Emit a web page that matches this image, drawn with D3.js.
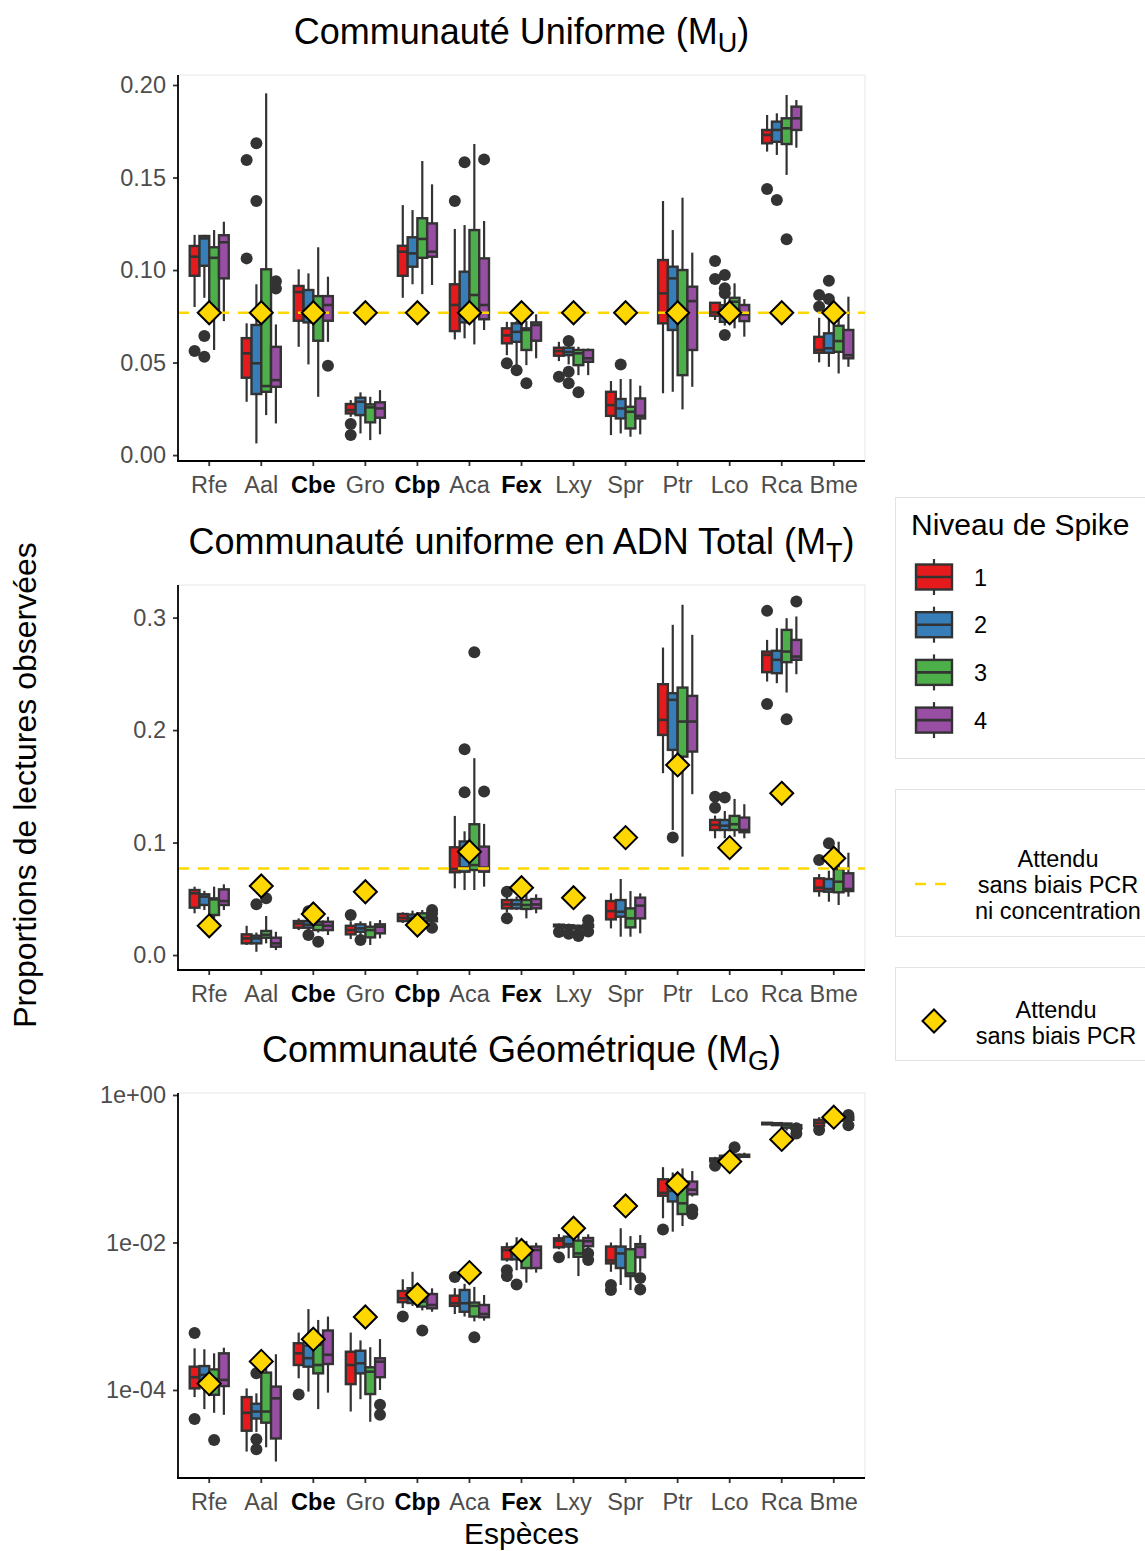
<!DOCTYPE html>
<html>
<head>
<meta charset="utf-8">
<script src="https://cdn.jsdelivr.net/npm/d3@7"></script>
<style>
  body { margin: 0; background: #fff; }
  svg { display: block; font-family: "Liberation Sans", Arial, Helvetica, sans-serif; }
</style>
</head>
<body>
<div id="chart"></div>
<script>
// species on the x axis, bold ones are highlighted in the figure
const species = ["Rfe", "Aal", "Cbe", "Gro", "Cbp", "Aca", "Fex", "Lxy", "Spr", "Ptr", "Lco", "Rca", "Bme"];
const boldSpecies = ["Cbe", "Cbp", "Fex"];
const levels = ["1", "2", "3", "4"];
const levelColors = ["#E41A1C", "#377EB8", "#4DAF4A", "#984EA3"];

// box stats per species: one [min, Q1, median, Q3, max] per spike level
const statsU = [
  [[0.080, 0.0969, 0.1072, 0.113, 0.119], [0.085, 0.1023, 0.1171, 0.1184, 0.119], [0.0568, 0.0784, 0.1066, 0.1123, 0.1216], [0.0724, 0.0955, 0.115, 0.1188, 0.1261]],
  [[0.0288, 0.0418, 0.055, 0.0632, 0.0712], [0.0063, 0.033, 0.0496, 0.0703, 0.0923], [0.0216, 0.0342, 0.0373, 0.1004, 0.1955], [0.0171, 0.0369, 0.0405, 0.0585, 0.0706]],
  [[0.0585, 0.0726, 0.0881, 0.0914, 0.1004], [0.049, 0.0717, 0.0751, 0.0892, 0.0982], [0.0315, 0.0618, 0.0771, 0.0859, 0.1123], [0.0612, 0.0726, 0.0811, 0.0859, 0.0964]],
  [[0.0207, 0.0225, 0.0243, 0.0276, 0.0297], [0.0117, 0.0216, 0.0288, 0.031, 0.0339], [0.0081, 0.0177, 0.0258, 0.0274, 0.0315], [0.0112, 0.0202, 0.0252, 0.0285, 0.0351]],
  [[0.085, 0.0969, 0.1099, 0.1131, 0.1351], [0.0923, 0.1018, 0.109, 0.1177, 0.1324], [0.087, 0.1066, 0.1168, 0.128, 0.1589], [0.0919, 0.1072, 0.1099, 0.1252, 0.1463]],
  [[0.0625, 0.067, 0.0811, 0.0923, 0.1222], [0.0631, 0.0717, 0.077, 0.0991, 0.1243], [0.0598, 0.0784, 0.0865, 0.1216, 0.1681], [0.0676, 0.0734, 0.0811, 0.1063, 0.1265]],
  [[0.054, 0.0604, 0.0647, 0.0685, 0.072], [0.0486, 0.0612, 0.0666, 0.0712, 0.0724], [0.0486, 0.0568, 0.0676, 0.0685, 0.0724], [0.0523, 0.0618, 0.0703, 0.0717, 0.0761]],
  [[0.0508, 0.0537, 0.0562, 0.058, 0.0612], [0.049, 0.054, 0.0557, 0.058, 0.0595], [0.0432, 0.0486, 0.055, 0.0568, 0.0585], [0.0432, 0.0504, 0.0523, 0.0568, 0.0576]],
  [[0.0108, 0.0212, 0.027, 0.0342, 0.04], [0.0117, 0.0198, 0.0252, 0.0303, 0.0411], [0.0099, 0.0144, 0.0234, 0.0261, 0.0411], [0.0112, 0.0198, 0.0212, 0.0306, 0.0375]],
  [[0.0334, 0.0712, 0.0874, 0.1054, 0.1373], [0.0342, 0.0676, 0.0955, 0.1018, 0.1216], [0.0247, 0.0432, 0.0775, 0.1, 0.1391], [0.0369, 0.0568, 0.0832, 0.091, 0.1094]],
  [[0.073, 0.0753, 0.0771, 0.0823, 0.0823], [0.07, 0.072, 0.0775, 0.081, 0.085], [0.0685, 0.0766, 0.0829, 0.085, 0.0928], [0.064, 0.0724, 0.076, 0.0811, 0.0843]],
  [[0.164, 0.1685, 0.173, 0.1757, 0.1838], [0.1622, 0.1693, 0.1757, 0.1802, 0.1847], [0.1514, 0.1681, 0.1766, 0.182, 0.1946], [0.1661, 0.1757, 0.182, 0.1883, 0.1919]],
  [[0.0501, 0.0553, 0.0568, 0.0639, 0.0742], [0.0477, 0.0553, 0.0577, 0.0658, 0.075], [0.0441, 0.0558, 0.0616, 0.0699, 0.0775], [0.0477, 0.0523, 0.054, 0.0676, 0.0856]]
];
const outliersU = [
  [[0.0562], [0.0643, 0.0531], [], []],
  [[0.1595, 0.1063], [0.1685, 0.1373], [], [0.094, 0.090]],
  [[], [], [], [0.0483]],
  [[0.0168, 0.0108], [], [], []],
  [[], [], [], []],
  [[0.1373], [0.1582], [], [0.1598]],
  [[0.0496], [0.0459], [0.0388], []],
  [[0.0423], [0.0616, 0.045, 0.0388], [0.0339], []],
  [[], [0.049], [], []],
  [[], [], [], []],
  [[0.1049, 0.0951], [0.0973, 0.0901, 0.0874, 0.0649], [], []],
  [[0.1438], [0.1378], [0.1166], []],
  [[0.0865, 0.0802], [0.0942, 0.0843], [], []]
];
const expectedU = [0.0769, 0.0769, 0.0769, 0.0769, 0.0769, 0.0769, 0.0769, 0.0769, 0.0769, 0.0769, 0.0769, 0.0769, 0.0769];

const statsT = [
  [[0.0371, 0.0421, 0.0549, 0.0578, 0.0608], [0.04, 0.0445, 0.0519, 0.054, 0.0571], [0.0326, 0.0356, 0.0495, 0.0504, 0.0608], [0.04, 0.0445, 0.048, 0.0584, 0.0629]],
  [[0.0089, 0.0104, 0.0148, 0.0184, 0.026], [0.0029, 0.0104, 0.0148, 0.0172, 0.02], [0.0104, 0.0154, 0.018, 0.0214, 0.0347], [0.0044, 0.0074, 0.0104, 0.0154, 0.0207]],
  [[0.0222, 0.0243, 0.028, 0.0302, 0.0326], [0.022, 0.0243, 0.027, 0.0302, 0.034], [0.02, 0.0222, 0.027, 0.0296, 0.033], [0.0178, 0.0222, 0.026, 0.0296, 0.034]],
  [[0.0142, 0.0184, 0.0222, 0.026, 0.03], [0.016, 0.0207, 0.0237, 0.0273, 0.03], [0.0089, 0.0157, 0.0222, 0.0252, 0.03], [0.0148, 0.0193, 0.0252, 0.0273, 0.0311]],
  [[0.0285, 0.0302, 0.033, 0.0365, 0.038], [0.027, 0.031, 0.033, 0.036, 0.0395], [0.026, 0.0296, 0.033, 0.0371, 0.04], [0.0285, 0.03, 0.0315, 0.033, 0.0335]],
  [[0.0593, 0.0736, 0.0765, 0.0958, 0.1237], [0.0578, 0.0741, 0.078, 0.101, 0.11], [0.0578, 0.0756, 0.08, 0.1163, 0.175], [0.0608, 0.0741, 0.0777, 0.0964, 0.1166]],
  [[0.038, 0.0415, 0.045, 0.0489, 0.052], [0.04, 0.0415, 0.045, 0.0489, 0.052], [0.0326, 0.041, 0.0445, 0.0489, 0.0534], [0.0371, 0.0415, 0.045, 0.0498, 0.054]],
  [[0.0245, 0.0255, 0.026, 0.027, 0.028], [0.023, 0.024, 0.025, 0.0265, 0.028], [0.022, 0.0235, 0.0245, 0.026, 0.027], [0.0235, 0.025, 0.026, 0.027, 0.0285]],
  [[0.0237, 0.0317, 0.0391, 0.048, 0.0549], [0.0163, 0.0341, 0.0385, 0.0489, 0.0676], [0.0163, 0.0246, 0.0326, 0.0415, 0.0569], [0.0193, 0.0326, 0.0439, 0.051, 0.0549]],
  [[0.1617, 0.1957, 0.2091, 0.2408, 0.2734], [0.1112, 0.1824, 0.2269, 0.2328, 0.2936], [0.0875, 0.1764, 0.2076, 0.2378, 0.3114], [0.143, 0.1809, 0.2076, 0.2304, 0.2847]],
  [[0.1038, 0.1112, 0.1157, 0.1201, 0.124], [0.1038, 0.1112, 0.115, 0.1201, 0.1281], [0.1052, 0.1112, 0.1163, 0.1237, 0.1388], [0.1038, 0.1092, 0.1112, 0.1222, 0.1341]],
  [[0.2432, 0.2515, 0.2669, 0.2698, 0.2802], [0.2417, 0.2506, 0.2625, 0.2705, 0.2907], [0.2334, 0.2604, 0.2698, 0.2891, 0.2995], [0.2497, 0.2625, 0.2654, 0.2802, 0.301]],
  [[0.0519, 0.0569, 0.0599, 0.0682, 0.072], [0.0474, 0.0563, 0.0587, 0.0676, 0.075], [0.0445, 0.0558, 0.0652, 0.0765, 0.1008], [0.0519, 0.0569, 0.0587, 0.0727, 0.091]]
];
const outliersT = [
  [[], [], [], []],
  [[], [0.0451], [0.0504], []],
  [[], [0.039, 0.0178], [0.0119], []],
  [[0.0356], [0.0133], [], []],
  [[], [], [], [0.04, 0.037, 0.0243]],
  [[], [0.183, 0.1447], [0.2693], [0.1453]],
  [[0.0563, 0.0326], [], [], []],
  [[0.0205], [0.019], [0.017, 0.0185], [0.031, 0.021]],
  [[], [], [], []],
  [[], [0.1044], [], []],
  [[0.1408, 0.131], [0.14], [], []],
  [[0.306, 0.2233], [], [0.2097], [0.3143]],
  [[0.0845], [0.0994], [], []]
];
const expectedT = [0.026, 0.0614, 0.0365, 0.0563, 0.0267, 0.0919, 0.0599, 0.051, 0.1044, 0.169, 0.0955, 0.1438, 0.086];

const statsG = [
  [[8.0e-5, 1.05e-4, 1.49e-4, 2.07e-4, 3.67e-4], [5.5e-5, 1.17e-4, 1.6e-4, 2.11e-4, 3.56e-4], [4.9e-5, 8.6e-5, 1.41e-4, 1.9e-4, 3.14e-4], [4.6e-5, 1.13e-4, 1.37e-4, 3.14e-4, 3.74e-4]],
  [[1.46e-5, 2.8e-5, 4.9e-5, 8.0e-5, 1.05e-4], [2.7e-5, 4.1e-5, 5.1e-5, 6.5e-5, 9.0e-5], [1.67e-5, 3.6e-5, 5.1e-5, 1.72e-4, 2.83e-4], [1.07e-5, 2.2e-5, 7.7e-5, 1.11e-4, 3.05e-4]],
  [[1.44e-4, 2.18e-4, 3.14e-4, 4.3e-4, 6.0e-4], [9.5e-5, 2.07e-4, 2.7e-4, 4.0e-4, 1.25e-3], [5.5e-5, 1.68e-4, 2.18e-4, 4.1e-4, 8.9e-4], [9.2e-5, 2.25e-4, 3.0e-4, 6.4e-4, 9.9e-4]],
  [[5.1e-5, 1.2e-4, 2.18e-4, 3.3e-4, 6.0e-4], [7.5e-5, 1.68e-4, 2.3e-4, 3.4e-4, 4.7e-4], [3.7e-5, 8.8e-5, 1.77e-4, 2.03e-4, 3.8e-4], [1.0e-4, 1.49e-4, 2.42e-4, 2.69e-4, 4.9e-4]],
  [[1.29e-3, 1.55e-3, 1.75e-3, 2.2e-3, 3.17e-3], [1.38e-3, 1.51e-3, 1.9e-3, 2.4e-3, 4.0e-3], [1.2e-3, 1.35e-3, 1.58e-3, 1.9e-3, 2.24e-3], [1.15e-3, 1.28e-3, 1.42e-3, 2.0e-3, 2.39e-3]],
  [[1.07e-3, 1.38e-3, 1.5e-3, 1.9e-3, 2.4e-3], [9.9e-4, 1.15e-3, 1.5e-3, 2.27e-3, 2.75e-3], [8.5e-4, 9.9e-4, 1.38e-3, 1.53e-3, 2.5e-3], [8.7e-4, 9.7e-4, 1.07e-3, 1.42e-3, 1.94e-3]],
  [[5.5e-3, 5.9e-3, 7.9e-3, 8.6e-3, 1.0e-2], [4.2e-3, 5.9e-3, 7.2e-3, 8.7e-3, 1.18e-2], [2.85e-3, 4.5e-3, 6.8e-3, 8.1e-3, 1.05e-2], [3.9e-3, 4.5e-3, 7.9e-3, 8.8e-3, 9.9e-3]],
  [[8.1e-3, 8.6e-3, 1.06e-2, 1.14e-2, 1.3e-2], [6.1e-3, 8.8e-3, 9.5e-3, 1.2e-2, 1.35e-2], [3.5e-3, 6.4e-3, 7.1e-3, 1.06e-2, 1.26e-2], [7.9e-3, 8.9e-3, 1.04e-2, 1.15e-2, 1.29e-2]],
  [[4.0e-3, 5.2e-3, 5.7e-3, 8.8e-3, 1.0e-2], [2.65e-3, 4.5e-3, 7.1e-3, 8.8e-3, 1.56e-2], [2.27e-3, 3.5e-3, 3.8e-3, 8.1e-3, 1.22e-2], [4.0e-3, 6.3e-3, 8.7e-3, 9.5e-3, 1.26e-2]],
  [[2.13e-2, 4.3e-2, 4.7e-2, 7.2e-2, 1.05e-1], [1.4e-2, 3.6e-2, 5.0e-2, 6.6e-2, 8.9e-2], [1.67e-2, 2.43e-2, 3.4e-2, 5.7e-2, 1.01e-1], [4.2e-2, 4.5e-2, 5.2e-2, 6.7e-2, 9.3e-2]],
  [[0.12, 0.126, 0.132, 0.138, 0.145], [0.13, 0.138, 0.145, 0.15, 0.16], [0.135, 0.142, 0.15, 0.155, 0.16], [0.14, 0.145, 0.15, 0.155, 0.165]],
  [[0.39, 0.4, 0.41, 0.42, 0.425], [0.38, 0.39, 0.405, 0.415, 0.42], [0.33, 0.36, 0.39, 0.41, 0.42], [0.33, 0.35, 0.37, 0.39, 0.4]],
  [[0.35, 0.38, 0.42, 0.46, 0.5], [0.4, 0.43, 0.46, 0.49, 0.52], [0.42, 0.45, 0.48, 0.5, 0.54], [0.44, 0.46, 0.48, 0.5, 0.54]]
];
const outliersG = [
  [[5.9e-4, 4.05e-5], [], [2.1e-5], []],
  [[], [1.68e-4, 2.14e-5, 1.57e-5], [], []],
  [[8.7e-5], [], [], []],
  [[], [], [], [6.3e-5, 4.6e-5]],
  [[9.9e-4], [], [6.4e-4], []],
  [[3.4e-3], [], [5.2e-4], []],
  [[4.2e-3, 3.5e-3], [2.7e-3], [], []],
  [[6.3e-3], [], [], [7.1e-3, 5.8e-3]],
  [[2.65e-3, 2.27e-3], [], [], [3.3e-3, 2.3e-3]],
  [[1.5e-2], [], [], [2.8e-2, 2.43e-2]],
  [[0.11], [], [0.195], []],
  [[], [], [], [0.355, 0.3]],
  [[0.335], [], [], [0.536, 0.39]]
];
const expectedG = [0.000122, 0.000244, 0.000488, 0.000977, 0.00195, 0.0039, 0.0078, 0.0156, 0.0313, 0.0625, 0.125, 0.25, 0.5];

// y axis ticks for each panel
const ticksU = [0, 0.05, 0.1, 0.15, 0.2];
const tickLabelsU = ["0.00", "0.05", "0.10", "0.15", "0.20"];
const ticksT = [0, 0.1, 0.2, 0.3];
const tickLabelsT = ["0.0", "0.1", "0.2", "0.3"];
const ticksG = [1e-4, 1e-2, 1];
const tickLabelsG = ["1e-04", "1e-02", "1e+00"];

const W = 1145, H = 1551;
const plotL = 178, plotR = 865;
const dark = "#333333";
const gold = "#FFD700";

const svg = d3.select("#chart").append("svg")
  .attr("width", W)
  .attr("height", H);

const x = d3.scaleBand()
  .domain(species)
  .range([plotL, plotR])
  .paddingInner(0)
  .paddingOuter(0.1);
const sub = d3.scaleBand()
  .domain(levels)
  .range([-0.375 * x.bandwidth(), 0.375 * x.bandwidth()]);

const diamond = r => `M0,${-r}L${r},0L0,${r}L${-r},0Z`;

const panels = [
  { title: ["Communauté Uniforme (M", "U", ")"], top: 75, bottom: 461,
    y: d3.scaleLinear().domain([-0.0032, 0.2054]),
    stats: statsU, outliers: outliersU, expected: expectedU,
    ticks: ticksU, labels: tickLabelsU, hline: 1 / 13 },
  { title: ["Communauté uniforme en ADN Total (M", "T", ")"], top: 585, bottom: 970,
    y: d3.scaleLinear().domain([-0.0133, 0.329]),
    stats: statsT, outliers: outliersT, expected: expectedT,
    ticks: ticksT, labels: tickLabelsT, hline: 1 / 13 },
  { title: ["Communauté Géométrique (M", "G", ")"], top: 1093, bottom: 1478,
    y: d3.scaleLog().domain([6.4e-6, 1.064]),
    stats: statsG, outliers: outliersG, expected: expectedG,
    ticks: ticksG, labels: tickLabelsG, hline: null }
];

function drawPanel(p) {
  const y = p.y.range([p.bottom, p.top]);
  const g = svg.append("g");

  // light frame on top and right
  g.append("path")
    .attr("d", `M${plotL},${p.top}H${plotR}V${p.bottom}`)
    .attr("fill", "none")
    .attr("stroke", "#e6e6e6")
    .attr("stroke-width", 1);

  const bw = sub.bandwidth();
  species.forEach((sp, i) => {
    const center = x(sp) + x.bandwidth() / 2;
    levels.forEach((lv, j) => {
      const s = p.stats[i][j];
      const x0 = center + sub(lv);
      const cx = x0 + bw / 2;
      const bg = g.append("g");

      bg.selectAll("circle")
        .data(p.outliers[i][j])
        .join("circle")
        .attr("cx", cx)
        .attr("cy", d => y(d))
        .attr("r", 6)
        .attr("fill", dark);

      bg.append("line")
        .attr("x1", cx).attr("x2", cx)
        .attr("y1", y(s[4])).attr("y2", y(s[3]))
        .attr("stroke", dark).attr("stroke-width", 2.2);
      bg.append("line")
        .attr("x1", cx).attr("x2", cx)
        .attr("y1", y(s[1])).attr("y2", y(s[0]))
        .attr("stroke", dark).attr("stroke-width", 2.2);

      bg.append("rect")
        .attr("x", x0)
        .attr("y", y(s[3]))
        .attr("width", bw)
        .attr("height", Math.max(0.5, y(s[1]) - y(s[3])))
        .attr("fill", levelColors[j])
        .attr("stroke", dark)
        .attr("stroke-width", 2.4);

      bg.append("line")
        .attr("x1", x0).attr("x2", x0 + bw)
        .attr("y1", y(s[2])).attr("y2", y(s[2]))
        .attr("stroke", dark).attr("stroke-width", 2.6);
    });
  });

  if (p.hline !== null) {
    g.append("line")
      .attr("x1", plotL).attr("x2", plotR)
      .attr("y1", y(p.hline)).attr("y2", y(p.hline))
      .attr("stroke", gold)
      .attr("stroke-width", 2.4)
      .attr("stroke-dasharray", "11,9");
  }

  g.selectAll("path.expected")
    .data(p.expected)
    .join("path")
    .attr("class", "expected")
    .attr("d", diamond(11.5))
    .attr("transform", (d, i) => `translate(${x(species[i]) + x.bandwidth() / 2},${y(d)})`)
    .attr("fill", gold)
    .attr("stroke", "#000")
    .attr("stroke-width", 2);

  // axes
  const yAxis = g.append("g")
    .attr("transform", `translate(${plotL},0)`)
    .call(d3.axisLeft(y).tickValues(p.ticks).tickFormat((d, i) => p.labels[i]).tickSize(5).tickPadding(7));
  yAxis.select(".domain").remove();
  yAxis.selectAll("line").attr("stroke", dark).attr("stroke-width", 1.8);
  yAxis.selectAll("text")
    .attr("fill", "#4d4d4d")
    .style("font-size", "23.5px")
    .style("font-family", "Liberation Sans, Arial, sans-serif");

  const xAxis = g.append("g")
    .attr("transform", `translate(0,${p.bottom})`)
    .call(d3.axisBottom(x).tickSize(5).tickPadding(10));
  xAxis.select(".domain").remove();
  xAxis.selectAll("line").attr("stroke", dark).attr("stroke-width", 1.8);
  xAxis.selectAll("text")
    .attr("fill", d => boldSpecies.includes(d) ? "#000" : "#4d4d4d")
    .style("font-weight", d => boldSpecies.includes(d) ? "bold" : "normal")
    .style("font-size", "23.5px")
    .style("font-family", "Liberation Sans, Arial, sans-serif");

  g.append("line")
    .attr("x1", plotL).attr("x2", plotL)
    .attr("y1", p.top).attr("y2", p.bottom + 0.9)
    .attr("stroke", "#000").attr("stroke-width", 1.8);
  g.append("line")
    .attr("x1", plotL - 0.9).attr("x2", plotR)
    .attr("y1", p.bottom).attr("y2", p.bottom)
    .attr("stroke", "#000").attr("stroke-width", 1.8);

  // title with subscript
  const t = svg.append("text")
    .attr("x", (plotL + plotR) / 2)
    .attr("y", p.top - 31)
    .attr("text-anchor", "middle")
    .style("font-size", "36px")
    .attr("fill", "#000");
  t.append("tspan").text(p.title[0]);
  t.append("tspan").attr("dy", 8).style("font-size", "27px").text(p.title[1]);
  t.append("tspan").attr("dy", -8).text(p.title[2]);
}

panels.forEach(drawPanel);

// axis titles
svg.append("text")
  .attr("transform", "translate(36,785) rotate(-90)")
  .attr("text-anchor", "middle")
  .style("font-size", "32px")
  .text("Proportions de lectures observées");
svg.append("text")
  .attr("x", (plotL + plotR) / 2)
  .attr("y", 1544)
  .attr("text-anchor", "middle")
  .style("font-size", "30px")
  .text("Espèces");

// legend: spike levels
const lg = svg.append("g");
lg.append("rect")
  .attr("x", 895.5).attr("y", 497.5).attr("width", 270).attr("height", 261)
  .attr("fill", "#fff").attr("stroke", "#e3e3e3");
lg.append("text")
  .attr("x", 911).attr("y", 535)
  .style("font-size", "30px")
  .text("Niveau de Spike");
levels.forEach((lv, j) => {
  const cy = 577 + j * 47.7;
  lg.append("line")
    .attr("x1", 934).attr("x2", 934)
    .attr("y1", cy - 18).attr("y2", cy + 18)
    .attr("stroke", dark).attr("stroke-width", 2.2);
  lg.append("rect")
    .attr("x", 916).attr("y", cy - 12.5).attr("width", 36).attr("height", 25)
    .attr("fill", levelColors[j]).attr("stroke", dark).attr("stroke-width", 2.4);
  lg.append("line")
    .attr("x1", 916).attr("x2", 952)
    .attr("y1", cy).attr("y2", cy)
    .attr("stroke", dark).attr("stroke-width", 2.6);
  lg.append("text")
    .attr("x", 974).attr("y", cy + 8.5)
    .style("font-size", "23.5px")
    .text(lv);
});

// legend: expected line
lg.append("rect")
  .attr("x", 895.5).attr("y", 789.5).attr("width", 270).attr("height", 147)
  .attr("fill", "#fff").attr("stroke", "#e3e3e3");
lg.append("line")
  .attr("x1", 915).attr("x2", 952).attr("y1", 884).attr("y2", 884)
  .attr("stroke", gold).attr("stroke-width", 2.4).attr("stroke-dasharray", "11,9");
["Attendu", "sans biais PCR", "ni concentration"].forEach((s, k) => {
  lg.append("text")
    .attr("x", 1058).attr("y", 867 + k * 26)
    .attr("text-anchor", "middle")
    .style("font-size", "23.5px")
    .text(s);
});

// legend: expected diamond
lg.append("rect")
  .attr("x", 895.5).attr("y", 967.5).attr("width", 270).attr("height", 93)
  .attr("fill", "#fff").attr("stroke", "#e3e3e3");
lg.append("path")
  .attr("d", diamond(11.5))
  .attr("transform", "translate(934,1021)")
  .attr("fill", gold).attr("stroke", "#000").attr("stroke-width", 2);
["Attendu", "sans biais PCR"].forEach((s, k) => {
  lg.append("text")
    .attr("x", 1056).attr("y", 1018 + k * 26)
    .attr("text-anchor", "middle")
    .style("font-size", "23.5px")
    .text(s);
});
</script>
</body>
</html>
